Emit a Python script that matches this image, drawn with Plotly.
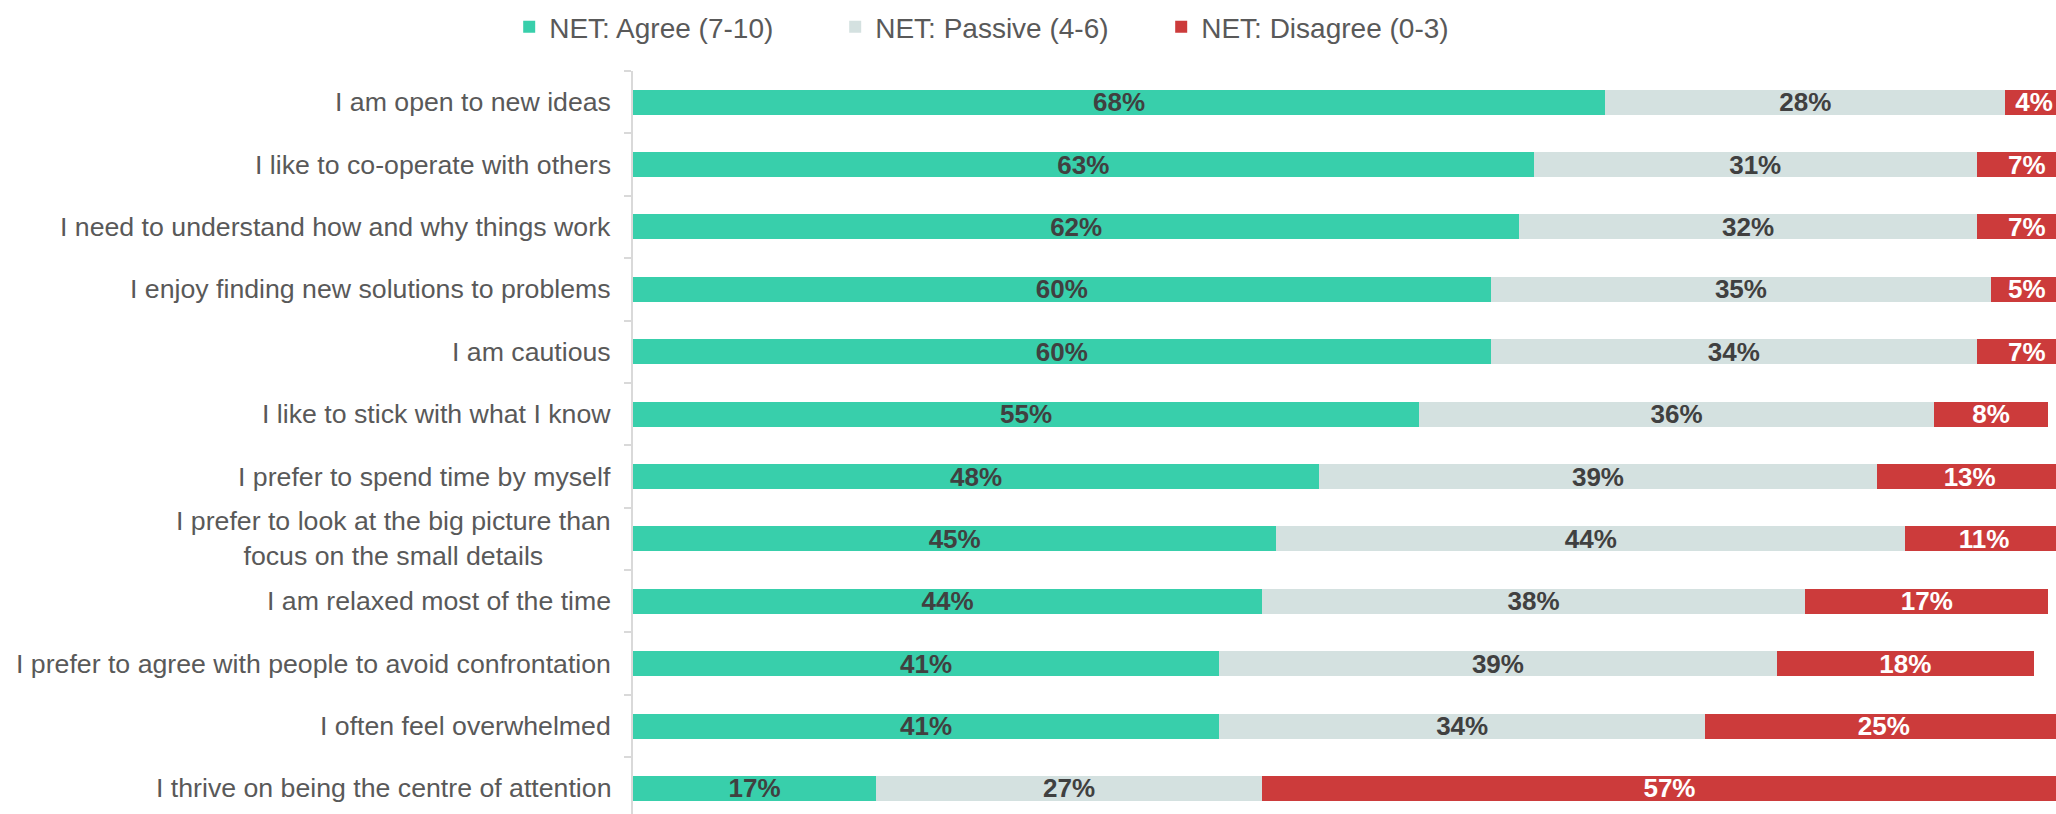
import plotly.graph_objects as go

# Survey statements (top to bottom) and NET shares in percent
categories = [
    "I am open to new ideas",
    "I like to co-operate with others",
    "I need to understand how and why things work",
    "I enjoy finding new solutions to problems",
    "I am cautious",
    "I like to stick with what I know",
    "I prefer to spend time by myself",
    "I prefer to look at the big picture than<br>focus on the small details",
    "I am relaxed most of the time",
    "I prefer to agree with people to avoid confrontation",
    "I often feel overwhelmed",
    "I thrive on being the centre of attention",
]
agree = [68, 63, 62, 60, 60, 55, 48, 45, 44, 41, 41, 17]
passive = [28, 31, 32, 35, 34, 36, 39, 44, 38, 39, 34, 27]
disagree = [4, 7, 7, 5, 7, 8, 13, 11, 17, 18, 25, 57]

series = [
    ("NET: Agree (7-10)", agree, "#38CFAB", "#404040"),
    ("NET: Passive (4-6)", passive, "#D4E1E0", "#404040"),
    ("NET: Disagree (0-3)", disagree, "#CC3B3B", "#FFFFFF"),
]

FONT = "Arial, 'Liberation Sans', sans-serif"

fig = go.Figure()
for name, vals, color, txtcolor in series:
    fig.add_trace(go.Bar(
        name=name,
        y=categories,
        x=vals,
        orientation="h",
        marker=dict(color=color, line=dict(width=0)),
        texttemplate="%{x}%",
        textposition="inside",
        insidetextanchor="middle",
        constraintext="none",
        textangle=0,
        textfont=dict(family=FONT, size=26, color=txtcolor, weight="bold"),
        hoverinfo="skip",
    ))

# Category labels, right-aligned against the axis, centred line by line
for cat in categories:
    fig.add_annotation(
        x=0, xref="paper", y=cat, yref="y",
        text=cat, showarrow=False,
        xanchor="right", yanchor="middle", align="center",
        xshift=-20,
        font=dict(family=FONT, size=26.7, color="#595959"),
    )

fig.update_layout(
    width=2056,
    height=814,
    barmode="stack",
    bargap=0.6,
    plot_bgcolor="white",
    paper_bgcolor="white",
    margin=dict(l=633, r=0, t=71, b=0),
    font=dict(family=FONT, color="#595959"),
    legend=dict(
        orientation="h",
        x=-0.087, xanchor="left",
        y=1.059, yanchor="middle",
        font=dict(family=FONT, size=28, color="#595959"),
        entrywidth=281,
        traceorder="normal",
        itemclick=False,
    ),
    xaxis=dict(range=[0, 99.54], visible=False, fixedrange=True),
    yaxis=dict(
        type="category",
        range=[11.41, -0.5],
        showline=True, linecolor="#D9D9D9", linewidth=2,
        ticks="outside", tickson="boundaries", ticklen=7,
        tickcolor="#D9D9D9", tickwidth=2,
        showticklabels=False, showgrid=False, zeroline=False,
        fixedrange=True,
    ),
)

fig.write_html("out.html")
